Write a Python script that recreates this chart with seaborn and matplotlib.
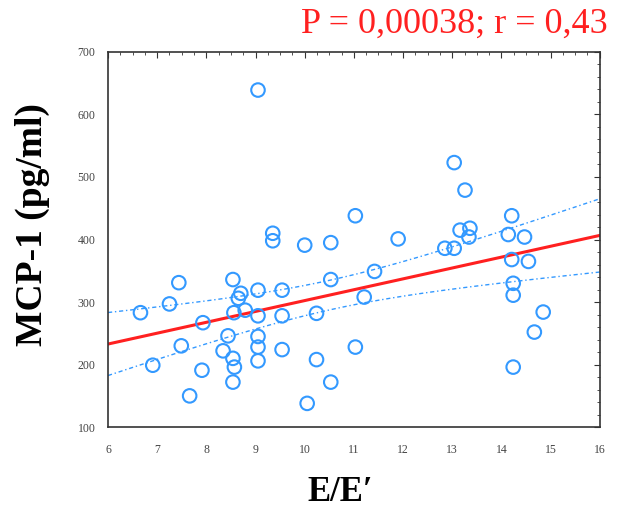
import numpy as np
import pandas as pd
import seaborn as sns
import matplotlib.pyplot as plt
from matplotlib.ticker import MultipleLocator

# values
ee = [6.66, 6.91, 7.25, 7.44, 7.49, 7.66, 7.91, 7.93, 8.34, 8.44,
      8.54, 8.56, 8.54, 8.57, 8.54, 8.65, 8.70, 8.79, 9.05, 9.05,
      9.05, 9.05, 9.05, 9.05, 9.35, 9.35, 9.54, 9.54, 9.54, 10.0,
      10.05, 10.24, 10.24, 10.53, 10.53, 10.53, 11.03, 11.03, 11.21, 11.42,
      11.9, 12.85, 13.04, 13.04, 13.26, 13.16, 13.36, 13.34, 14.14, 14.21,
      14.47, 14.21, 14.55, 14.24, 14.24, 14.85, 14.67, 14.24]
mcp1 = [283, 199, 297, 331, 230, 150, 191, 267, 222, 246,
        336, 283, 210, 196, 172, 306, 314, 287, 639, 319,
        278, 245, 228, 206, 410, 398, 319, 278, 224, 391,
        138, 282, 208, 395, 336, 172, 438, 228, 308, 349,
        401, 386, 386, 523, 479, 415, 418, 404, 408, 438,
        404, 368, 365, 330, 311, 284, 252, 196]
title_txt = "P = 0,00038; r = 0,43"

df = pd.DataFrame({"ee": ee, "mcp": mcp1})

sns.set_style("white")
plt.rcParams['font.family'] = ['Liberation Serif', 'DejaVu Serif']

fig = plt.figure(figsize=(6.28, 5.19), dpi=100)
ax = fig.add_axes([0.172, 0.177, 0.783, 0.723])
ax.set_xlim(6, 16)
ax.set_ylim(100, 700)

blue = "#3399ff"
sns.scatterplot(data=df, x="ee", y="mcp", ax=ax, s=95, marker="o",
                facecolors="none", edgecolor=blue, linewidth=1.5, zorder=3)
sns.regplot(data=df, x="ee", y="mcp", ax=ax, scatter=False, ci=None,
            truncate=False, line_kws=dict(color="#ff2020", lw=2.2))

# 95% confidence band of the fit, drawn as dotted lines
x = np.array(ee, dtype=float)
y = np.array(mcp1, dtype=float)
n = len(x)
b, a = np.polyfit(x, y, 1)
resid = y - (a + b * x)
s = np.sqrt(np.sum(resid ** 2) / (n - 2))
xs = np.linspace(6, 16, 100)
se = s * np.sqrt(1 / n + (xs - x.mean()) ** 2 / np.sum((x - x.mean()) ** 2))
yf = a + b * xs
ax.plot(xs, yf + 2.0 * se, color=blue, lw=1, ls=(0, (3, 2, 1, 2)))
ax.plot(xs, yf - 2.0 * se, color=blue, lw=1, ls=(0, (3, 2, 1, 2)))

ax.set_xlim(6, 16)
ax.set_ylim(100, 700)
ax.xaxis.set_major_locator(MultipleLocator(1))
ax.xaxis.set_minor_locator(MultipleLocator(0.25))
ax.yaxis.set_major_locator(MultipleLocator(100))
ax.yaxis.set_minor_locator(MultipleLocator(20))
ax.tick_params(which="both", direction="in", top=True, right=True,
               colors="#333333", labelsize=8.5, labelcolor="#444444")
ax.tick_params(which="major", length=4)
ax.tick_params(which="minor", length=2.5)
ax.tick_params(axis="x", pad=12)
ax.tick_params(axis="y", pad=9)
for sp in ax.spines.values():
    sp.set_color("#333333")
    sp.set_linewidth(1.2)

ax.set_xlabel("E/E\u2032", fontsize=25, fontweight="bold", color="black")
ax.set_ylabel("MCP-1 (pg/ml)", fontsize=27, fontweight="bold", color="black")
ax.xaxis.set_label_coords(0.472, -0.13)
ax.yaxis.set_label_coords(-0.118, 0.541)
fig.text(0.967, 0.954, title_txt, color="#ff2020", fontsize=26,
         ha="right", va="center")

fig.savefig("out.png", dpi=100)
